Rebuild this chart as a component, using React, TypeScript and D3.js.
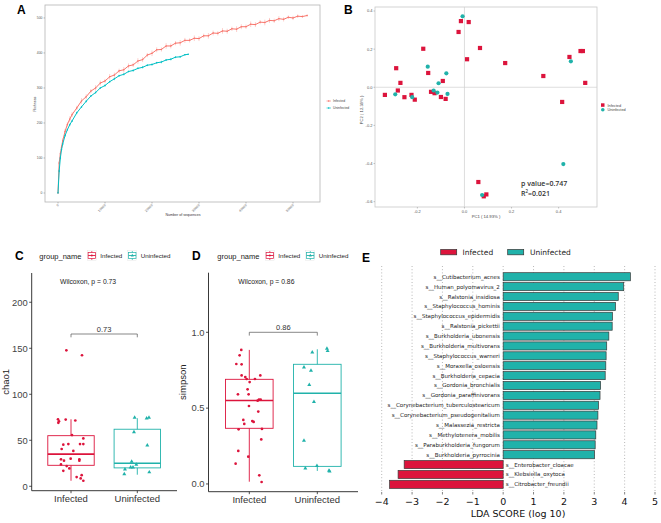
import React from 'react';
import * as d3 from 'd3';

const SANS = "'Liberation Sans', Arial, sans-serif";
const DEJAVU = "'DejaVu Sans', sans-serif";
const RED = '#DC143C';
const TEAL = '#20B2AA';
const A_RED = '#F8766D';
const A_TEAL = '#00BFC4';

// ---------- Panel A: rarefaction ----------
const rareStepsInfected = [0, 250, 500, 750, 1000, 1500, 2000, 2500, 3000, 4000, 5000, 6000, 7000, 8000, 9000, 10000, 11000, 12000, 13000, 14000, 15000, 16000, 17000, 18000, 19000, 20000, 21000, 22000, 23000, 24000, 25000, 26000, 27000, 28000, 29000, 30000, 31000, 32000, 33000, 34000, 35000, 36000, 37000, 38000, 39000, 40000, 41000, 42000, 43000, 44000, 45000, 46000, 47000, 48000, 49000, 50000, 51000, 52000, 53000];
const rareInfected = [0, 86, 112, 131, 149, 176, 196, 211, 224, 243, 263, 275, 291, 300, 314, 320, 332, 337, 349, 352, 363, 366, 377, 381, 394, 399, 409, 410, 420, 420, 428, 429, 436, 436, 442, 441, 449, 449, 457, 456, 463, 462, 469, 468, 475, 475, 482, 481, 488, 487, 493, 492, 498, 496, 502, 500, 505, 504, 507];
const rareInfectedErr = [0, 5, 6, 6, 7, 7, 6, 8, 7, 6, 8, 7, 6, 8, 7, 6, 8, 7, 6, 8, 7, 6, 8, 7, 6, 8, 7, 6, 8, 7, 6, 8, 7, 6, 8, 7, 6, 8, 7, 6, 8, 7, 6, 8, 7, 6, 8, 7, 6, 8, 7, 6, 7, 6, 5, 6, 5, 4, 3];
const rareStepsUninfected = [0, 250, 500, 750, 1000, 1500, 2000, 2500, 3000, 4000, 5000, 6000, 7000, 8000, 9000, 10000, 11000, 12000, 13000, 14000, 15000, 16000, 17000, 18000, 19000, 20000, 21000, 22000, 23000, 24000, 25000, 26000, 27000, 27700];
const rareUninfected = [0, 63, 100, 124, 140, 164, 181, 195, 206, 229, 246, 262, 277, 287, 300, 307, 318, 326, 335, 339, 347, 350, 356, 359, 365, 367, 372, 374, 380, 382, 388, 389, 395, 396];
const rareUninfectedErr = [0, 4, 4, 4, 4, 4, 3, 4, 3, 4, 3, 4, 3, 4, 3, 4, 3, 4, 3, 4, 3, 4, 3, 4, 3, 4, 3, 4, 3, 4, 3, 3, 2, 2];
const rareXTicks = [0, 10000, 20000, 30000, 40000, 50000];
const rareYTicks = [0, 100, 200, 300, 400, 500];

// ---------- Panel B: PCoA ----------
const pcoaInfectedX = [-0.338, -0.290, -0.272, -0.283, -0.255, -0.225, -0.211, -0.175, -0.154, -0.142, -0.127, -0.100, -0.092, -0.080, -0.025, -0.015, 0.018, 0.011, 0.066, 0.173, 0.335, 0.415, 0.446, 0.493, 0.503, 0.513, 0.059, 0.082, 0.093];
const pcoaInfectedY = [-0.040, 0.100, 0.023, -0.017, -0.052, -0.040, -0.065, 0.202, 0.075, -0.024, -0.031, -0.051, 0.033, -0.061, 0.290, 0.347, 0.342, 0.147, 0.206, 0.127, 0.059, -0.077, 0.159, 0.190, 0.190, 0.023, -0.497, -0.572, -0.562];
const pcoaUninfectedX = [-0.294, -0.222, -0.156, -0.131, -0.115, -0.110, -0.077, -0.072, -0.008, 0.452, 0.420, 0.075];
const pcoaUninfectedY = [-0.037, -0.052, 0.108, -0.017, -0.028, 0.021, 0.073, -0.035, 0.372, 0.136, -0.403, -0.565];
const pcoaXTicks = [-0.2, 0.0, 0.2, 0.4];
const pcoaYTicks = [0.4, 0.2, 0.0, -0.2, -0.4, -0.6];

// ---------- Panels C & D: boxplots ----------
const groups = ['Infected', 'Uninfected'];
const chaoInfected = [147.8, 142.4, 72.8, 72.5, 70.7, 71.5, 69, 55.6, 52, 45.9, 45.9, 45.9, 45.2, 40.5, 38.4, 29.3, 30, 29.3, 27.8, 27.8, 23.8, 22, 19.4, 16.8, 12.1, 10, 8.5, 6];
const chaoInfectedJitter = [-0.07, 0.166, -0.196, -0.08, -0.181, 0.065, -0.191, 0.015, 0.186, -0.04, 0.136, 0.186, -0.116, -0.141, 0.035, -0.151, -0.005, 0.126, 0.126, -0.106, -0.151, -0.065, -0.025, -0.116, 0.161, 0.085, 0.146, 0.186];
const chaoUninfected = [74.6, 73.9, 74.6, 59, 44.6, 26.8, 23.5, 18.4, 20.7, 20.7, 15.3, 13.3];
const chaoUninfectedJitter = [-0.04, 0.141, 0.176, -0.05, 0.151, -0.085, -0.015, -0.186, -0.1, -0.065, 0.181, -0.196];
const chaoBoxInfected = [6, 22.8, 35, 55, 72.8];
const chaoBoxUninfected = [12.6, 20, 25, 62, 74];
const chaoTicks = [0, 50, 100, 150, 200];

const simpInfected = [0.884, 0.848, 0.791, 0.789, 0.716, 0.705, 0.692, 0.692, 0.716, 0.672, 0.624, 0.591, 0.591, 0.549, 0.556, 0.556, 0.514, 0.477, 0.422, 0.415, 0.409, 0.396, 0.36, 0.363, 0.294, 0.218, 0.18, 0.134, 0.057, 0.013];
const simpInfectedJitter = [-0.118, -0.142, -0.191, -0.113, -0.113, -0.059, -0.039, 0.083, 0.162, 0.005, -0.025, -0.167, -0.01, 0.123, 0.142, 0.167, -0.005, 0.132, -0.088, 0.044, 0.064, -0.074, -0.157, 0.186, 0.176, -0.162, -0.015, -0.201, 0.147, 0.181];
const simpUninfected = [0.868, 0.892, 0.877, 0.769, 0.747, 0.653, 0.541, 0.286, 0.103, 0.119, 0.088, 0.084];
const simpUninfectedJitter = [-0.074, 0.142, 0.152, -0.196, -0.093, -0.118, -0.049, -0.196, -0.176, -0.005, 0.172, 0.181];
const simpBoxInfected = [0.015, 0.367, 0.55, 0.69, 0.884];
const simpBoxUninfected = [0.086, 0.116, 0.598, 0.789, 0.888];
const simpTicks = [0, 0.5, 1.0];

// ---------- Panel E: LEfSe ----------
const ldaTaxa = ['s__Cutibacterium_acnes', 's__Human_polyomavirus_2', 's__Ralstonia_insidiosa', 's__Staphylococcus_hominis', 's__Staphylococcus_epidermidis', 's__Ralstonia_pickettii', 's__Burkholderia_ubonensis', 's__Burkholderia_multivorans', 's__Staphylococcus_warneri', 's__Moraxella_osloensis', 's__Burkholderia_cepacia', 's__Gordonia_bronchialis', 's__Gordonia_paraffinivorans', 's__Corynebacterium_tuberculostearicum', 's__Corynebacterium_pseudogenitalium', 's__Malassezia_restricta', 's__Methylotenera_mobilis', 's__Paraburkholderia_fungorum', 's__Burkholderia_pyrrocinia', 's__Enterobacter_cloacae', 's__Klebsiella_oxytoca', 's__Citrobacter_freundii'];
const ldaScores = [4.19, 3.97, 3.79, 3.70, 3.60, 3.59, 3.48, 3.41, 3.39, 3.38, 3.36, 3.21, 3.19, 3.14, 3.12, 3.09, 3.05, 3.03, 3.01, -3.26, -3.46, -3.74];
const ldaTicks = [-4, -3, -2, -1, 0, 1, 2, 3, 4, 5];

function PanelA() {
  const x = d3.scaleLinear().domain([-2766, 55745]).range([45, 320]);
  const y = d3.scaleLinear().domain([-25.7, 537]).range([202, 5]);
  const series = [
    { steps: rareStepsInfected, vals: rareInfected, err: rareInfectedErr, color: A_RED },
    { steps: rareStepsUninfected, vals: rareUninfected, err: rareUninfectedErr, color: A_TEAL },
  ];
  const line = d3.line<[number, number]>().x(d => x(d[0])).y(d => y(d[1]));
  return (
    <g>
      <text x={17} y={14} fontFamily={SANS} fontWeight="bold" fontSize={12}>A</text>
      <rect x={45} y={5} width={275} height={197} fill="none" stroke="#b5b5b5" strokeWidth={0.8} />
      {series.map((s, si) => (
        <g key={si}>
          {s.steps.map((st, i) => (
            <line key={i} x1={x(st)} x2={x(st)} y1={y(s.vals[i] - s.err[i])} y2={y(s.vals[i] + s.err[i])} stroke={s.color} strokeOpacity={0.45} strokeWidth={0.8} />
          ))}
          <path d={line(s.steps.map((st, i) => [st, s.vals[i]] as [number, number])) || ''} fill="none" stroke={s.color} strokeWidth={1} />
          {s.steps.map((st, i) => (
            <circle key={'p' + i} cx={x(st)} cy={y(s.vals[i])} r={0.75} fill={s.color} />
          ))}
        </g>
      ))}
      {rareYTicks.map(t => (
        <g key={t}>
          <line x1={43.5} x2={45} y1={y(t)} y2={y(t)} stroke="#666" strokeWidth={0.4} />
          <text x={42.5} y={y(t) + 1.2} textAnchor="end" fontFamily={SANS} fontSize={3.4} fill="#555">{t}</text>
        </g>
      ))}
      {rareXTicks.map(t => (
        <g key={t}>
          <line x1={x(t)} x2={x(t)} y1={202} y2={203.5} stroke="#666" strokeWidth={0.4} />
          <text transform={`translate(${x(t) + 1},${205.5}) rotate(-45)`} textAnchor="end" fontFamily={SANS} fontSize={3.4} fill="#555">{t}</text>
        </g>
      ))}
      <text x={183} y={216} textAnchor="middle" fontFamily={SANS} fontSize={3.6} fill="#333">Number of sequences</text>
      <text transform="translate(36,104) rotate(-90)" textAnchor="middle" fontFamily={SANS} fontSize={3.6} fill="#333">Richness</text>
      {[{ c: A_RED, t: 'Infected', yy: 101 }, { c: A_TEAL, t: 'Uninfected', yy: 108 }].map(d => (
        <g key={d.t}>
          <line x1={326.5} x2={331} y1={d.yy} y2={d.yy} stroke={d.c} strokeWidth={0.6} />
          <circle cx={328.7} cy={d.yy} r={0.8} fill={d.c} />
          <text x={333} y={d.yy + 1.2} fontFamily={SANS} fontSize={3.4} fill="#444">{d.t}</text>
        </g>
      ))}
    </g>
  );
}

function PanelB() {
  const x = d3.scaleLinear().domain([-0.38, 0.563]).range([375, 597]);
  const y = d3.scaleLinear().domain([-0.628, 0.421]).range([207, 7]);
  const f = d3.format('.1f');
  return (
    <g>
      <text x={344} y={14} fontFamily={SANS} fontWeight="bold" fontSize={12}>B</text>
      <rect x={375} y={7} width={222} height={200} fill="none" stroke="#c8c8c8" strokeWidth={0.8} />
      <line x1={x(0)} x2={x(0)} y1={7} y2={207} stroke="#d0d0d0" strokeWidth={0.7} />
      <line x1={375} x2={597} y1={y(0)} y2={y(0)} stroke="#d0d0d0" strokeWidth={0.7} />
      {pcoaYTicks.map(t => (
        <g key={t}>
          <line x1={373.5} x2={375} y1={y(t)} y2={y(t)} stroke="#777" strokeWidth={0.4} />
          <text x={372.5} y={y(t) + 1.4} textAnchor="end" fontFamily={SANS} fontSize={4} fill="#555">{f(t).replace('−', '-')}</text>
        </g>
      ))}
      {pcoaXTicks.map(t => (
        <g key={t}>
          <line x1={x(t)} x2={x(t)} y1={207} y2={208.5} stroke="#777" strokeWidth={0.4} />
          <text x={x(t)} y={212.5} textAnchor="middle" fontFamily={SANS} fontSize={4} fill="#555">{f(t).replace('−', '-')}</text>
        </g>
      ))}
      <text x={486} y={217.5} textAnchor="middle" fontFamily={SANS} fontSize={4.2} fill="#444">PC1 ( 14.93% )</text>
      <text transform="translate(363,110) rotate(-90)" textAnchor="middle" fontFamily={SANS} fontSize={4.2} fill="#444">PC2 ( 12.39% )</text>
      {pcoaInfectedX.map((v, i) => (
        <rect key={'r' + i} x={x(v) - 2.1} y={y(pcoaInfectedY[i]) - 2.1} width={4.2} height={4.2} fill={RED} />
      ))}
      {pcoaUninfectedX.map((v, i) => (
        <circle key={'c' + i} cx={x(v)} cy={y(pcoaUninfectedY[i])} r={2.1} fill={TEAL} />
      ))}
      <text x={521} y={186} fontFamily="'Open Sans', sans-serif" fontWeight={600} fontSize={7} fill="#333">p value=0.747</text>
      <text x={521} y={195.5} fontFamily="'Open Sans', sans-serif" fontWeight={600} fontSize={7} fill="#333">R<tspan fontSize={4.5} dy={-2.5}>2</tspan><tspan dy={2.5}>=0.021</tspan></text>
      <rect x={601} y={103.3} width={3.5} height={3.5} fill={RED} />
      <text x={607.5} y={106.6} fontFamily={SANS} fontSize={3.8} fill="#444">Infected</text>
      <circle cx={602.8} cy={109.8} r={1.8} fill={TEAL} />
      <text x={607.5} y={111.2} fontFamily={SANS} fontSize={3.8} fill="#444">Uninfected</text>
    </g>
  );
}

type BoxProps = {
  label: string; labelX: number; yLabel: string;
  xRange: [number, number]; yDomain: [number, number]; yRange: [number, number];
  axisLeft: number; axisRight: number;
  ticks: number[]; tickFmt: (v: number) => string;
  vals: number[][]; jit: number[][]; boxes: number[][];
  bracketY: number; pLabel: string; wilcoxX: number;
  legendX: number;
};

function BoxPanel(p: BoxProps) {
  const x = d3.scalePoint<string>().domain(groups).range(p.xRange);
  const step = p.xRange[1] - p.xRange[0];
  const y = d3.scaleLinear().domain(p.yDomain).range(p.yRange);
  const colors = [RED, TEAL];
  const bw = step * 0.7;
  const lx = p.legendX;
  return (
    <g>
      <text x={p.labelX} y={260} fontFamily={SANS} fontWeight="bold" fontSize={12}>{p.label}</text>
      <text x={lx} y={259} fontFamily={SANS} fontSize={7.5} fill="#222">group_name</text>
      {groups.map((g, gi) => {
        const kx = lx + 48 + gi * 40.5;
        return (
          <g key={g}>
            <rect x={kx} y={250.5} width={9} height={10} fill="#fff" stroke="#d8d8d8" strokeWidth={0.3} />
            <line x1={kx + 4.5} x2={kx + 4.5} y1={251} y2={260} stroke={colors[gi]} strokeWidth={0.7} />
            <rect x={kx + 0.8} y={252.6} width={7.4} height={5.8} fill="#fff" stroke={colors[gi]} strokeWidth={0.7} />
            <line x1={kx + 0.8} x2={kx + 8.2} y1={255.5} y2={255.5} stroke={colors[gi]} strokeWidth={0.9} />
            {gi === 0 ? <circle cx={kx + 4.5} cy={255.5} r={1} fill={colors[gi]} /> :
              <path d={d3.symbol(d3.symbolTriangle, 4)() || ''} transform={`translate(${kx + 4.5},${255.5})`} fill={colors[gi]} />}
            <text x={kx + 13} y={258} fontFamily={SANS} fontSize={6.2} fill="#222">{g}</text>
          </g>
        );
      })}
      <text x={p.wilcoxX} y={283.5} fontFamily={SANS} fontSize={6.8} fill="#222">Wilcoxon, p = {p.pLabel}</text>
      {groups.map((g, gi) => {
        const cx = x(g) as number;
        const b = p.boxes[gi];
        return (
          <g key={g}>
            <line x1={cx} x2={cx} y1={y(b[0])} y2={y(b[4])} stroke={colors[gi]} strokeWidth={0.9} />
            <rect x={cx - bw / 2} y={y(b[3])} width={bw} height={y(b[1]) - y(b[3])} fill="#fff" stroke={colors[gi]} strokeWidth={0.9} />
            <line x1={cx - bw / 2} x2={cx + bw / 2} y1={y(b[2])} y2={y(b[2])} stroke={colors[gi]} strokeWidth={1.6} />
            {p.vals[gi].map((v, i) => {
              const px = cx + p.jit[gi][i] * step;
              return gi === 0 ? (
                <circle key={i} cx={px} cy={y(v)} r={1.35} fill={colors[gi]} />
              ) : (
                <path key={i} d={d3.symbol(d3.symbolTriangle, 7)() || ''} transform={`translate(${px},${y(v)})`} fill={colors[gi]} />
              );
            })}
          </g>
        );
      })}
      <path d={`M${x('Infected')},${y(p.bracketY) + 3.3}V${y(p.bracketY)}H${x('Uninfected')}V${y(p.bracketY) + 3.3}`} fill="none" stroke="#555" strokeWidth={0.7} />
      <text x={((x('Infected') as number) + (x('Uninfected') as number)) / 2} y={y(p.bracketY) - 2.5} textAnchor="middle" fontFamily={SANS} fontSize={7.5} fill="#333">{p.pLabel}</text>
      <line x1={p.axisLeft} x2={p.axisLeft} y1={p.yRange[1]} y2={p.yRange[0]} stroke="#222" strokeWidth={0.9} />
      <line x1={p.axisLeft} x2={p.axisRight} y1={p.yRange[0]} y2={p.yRange[0]} stroke="#222" strokeWidth={0.9} />
      {p.ticks.map(t => (
        <g key={t}>
          <line x1={p.axisLeft - 2.5} x2={p.axisLeft} y1={y(t)} y2={y(t)} stroke="#222" strokeWidth={0.8} />
          <text x={p.axisLeft - 4} y={y(t) + 3.3} textAnchor="end" fontFamily={SANS} fontSize={9.4} fill="#444">{p.tickFmt(t)}</text>
        </g>
      ))}
      {groups.map(g => (
        <g key={g}>
          <line x1={x(g)} x2={x(g)} y1={p.yRange[0]} y2={p.yRange[0] + 2.5} stroke="#222" strokeWidth={0.8} />
          <text x={x(g)} y={p.yRange[0] + 11.5} textAnchor="middle" fontFamily={SANS} fontSize={9.5} fill="#333">{g}</text>
        </g>
      ))}
      <text transform={`translate(${p.axisLeft - 23},${(p.yRange[0] + p.yRange[1]) / 2}) rotate(-90)`} textAnchor="middle" fontFamily={SANS} fontSize={9.5} fill="#222">{p.yLabel}</text>
    </g>
  );
}

function PanelE() {
  const x = d3.scaleLinear().domain([-4, 5]).range([381.7, 655]);
  const y = d3.scaleBand<string>().domain(ldaTaxa).range([271.8, 489.3]).paddingInner(0.18).paddingOuter(0.09);
  const f = d3.format('d');
  return (
    <g>
      <text x={362} y={262} fontFamily={SANS} fontWeight="bold" fontSize={12}>E</text>
      <rect x={440.7} y={249.5} width={16} height={5.3} fill={RED} stroke="#333" strokeWidth={0.7} />
      <text x={462.5} y={255.3} fontFamily={DEJAVU} fontSize={7.5} fill="#222">Infected</text>
      <rect x={507.7} y={249.5} width={16} height={5.3} fill={TEAL} stroke="#333" strokeWidth={0.7} />
      <text x={530} y={255.3} fontFamily={DEJAVU} fontSize={7.5} fill="#222">Uninfected</text>
      {ldaTicks.map(t => (
        <g key={t}>
          <line x1={x(t)} x2={x(t)} y1={266} y2={492} stroke="#888" strokeWidth={0.6} strokeDasharray="1,2.2" />
          <line x1={x(t)} x2={x(t)} y1={492} y2={494.5} stroke="#333" strokeWidth={0.6} />
          <text x={x(t)} y={505} textAnchor="middle" fontFamily={DEJAVU} fontSize={9.5} fill="#111">{f(t)}</text>
        </g>
      ))}
      {ldaTaxa.map((t, i) => {
        const v = ldaScores[i];
        const y0 = y(t) as number;
        const bh = y.bandwidth();
        return (
          <g key={t}>
            <rect x={x(Math.min(0, v))} y={y0} width={Math.abs(x(v) - x(0))} height={bh} fill={v > 0 ? TEAL : RED} stroke="#3a3a3a" strokeWidth={0.7} />
            <text x={v > 0 ? x(0) - 3.3 : x(0) + 2.7} y={y0 + bh / 2 + 2} textAnchor={v > 0 ? 'end' : 'start'} fontFamily={DEJAVU} fontSize={5.5} fill="#222">{t}</text>
          </g>
        );
      })}
      <text x={518} y={517} textAnchor="middle" fontFamily={DEJAVU} fontSize={9.5} fill="#111">LDA SCORE (log 10)</text>
    </g>
  );
}

export default function App() {
  return (
    <svg width={661} height={523} style={{ position: 'absolute', left: 0, top: 0, background: '#fff' }}>
      <rect width={661} height={523} fill="#fff" />
      <PanelA />
      <PanelB />
      <BoxPanel label="C" labelX={15} yLabel="chao1" xRange={[71, 137.3]} yDomain={[-4.8, 231.8]} yRange={[490.7, 273]}
        axisLeft={31.7} axisRight={177} ticks={chaoTicks} tickFmt={d3.format('d')}
        vals={[chaoInfected, chaoUninfected]} jit={[chaoInfectedJitter, chaoUninfectedJitter]} boxes={[chaoBoxInfected, chaoBoxUninfected]}
        bracketY={165.5} pLabel="0.73" wilcoxX={60} legendX={39.3} />
      <BoxPanel label="D" labelX={192} yLabel="simpson" xRange={[249.3, 317.3]} yDomain={[-0.051, 1.393]} yRange={[491.7, 272.7]}
        axisLeft={208.5} axisRight={358} ticks={simpTicks} tickFmt={d3.format('.1f')}
        vals={[simpInfected, simpUninfected]} jit={[simpInfectedJitter, simpUninfectedJitter]} boxes={[simpBoxInfected, simpBoxUninfected]}
        bracketY={1.0} pLabel="0.86" wilcoxX={238.3} legendX={217.3} />
      <PanelE />
    </svg>
  );
}
